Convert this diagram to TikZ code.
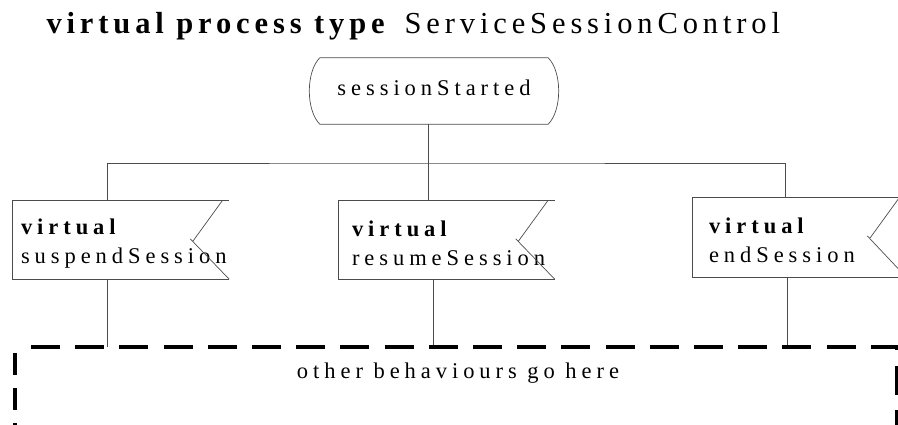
\documentclass[tikz,border=0pt]{standalone}
\usepackage{fontspec}
\setmainfont{Liberation Serif}
\newfontfamily\sdlfont[LetterSpace=22]{Liberation Serif}
\newfontfamily\headfont[LetterSpace=16]{Liberation Serif}
\newcommand{\sigfont}{\sdlfont\fontsize{22.5}{29}\selectfont\hyphenpenalty=10000}
\newcommand{\titlefont}{\headfont\fontsize{30.5}{36}\selectfont}
\usepackage{tikz}
\usetikzlibrary{positioning}
\tikzstyle{line}=[draw=black!70, line width=0.7pt]
\tikzstyle{frame}=[line width=4pt, dash pattern=on 29pt off 15.2pt]
\tikzstyle{state}=[rectangle, minimum width=228pt, minimum height=66pt, inner sep=0pt, text depth=6pt, font=\sigfont]
\tikzstyle{sig}=[rectangle, minimum width=216pt, minimum height=78pt, inner xsep=8pt, text width=200pt, align=left, font=\sigfont]
\newcommand{\virt}[1]{\rule{0pt}{22pt}\textbf{virtual}\\#1}
\newcommand{\insig}[1]{\draw[line] (#1.north east) -- (#1.north west) -- (#1.south west) -- (#1.south east);
 \draw[line] ([xshift=-7pt]#1.north east) -- ++(-29,40) ++(-3,-2) -- (#1.south east);}

\begin{document}
\begin{tikzpicture}[x=1pt, y=-1pt]
 \useasboundingbox (0,0) rectangle (898,425);

 \node[anchor=base west, font=\titlefont] (title) at (43,34) {\textbf{virtual process type}\hspace{15pt}ServiceSessionControl};

 \node[state] (started) at (434,91) {sessionStarted};
 \draw[line] (started.north west) -- (started.north east)
 	.. controls +(14,14) and +(14,-14) .. (started.south east) -- (started.south west)
 	.. controls +(-14,-14) and +(-14,14) .. (started.north west);

 \node[sig] (suspend) at (121,240) {\virt{suspendSession}};
 \node[sig, inner xsep=13pt, text width=189pt] (resume) at (446.5,240) {\virt{resumeSession}};
 \node[sig, minimum width=213pt, minimum height=79pt, inner xsep=16pt, text width=181pt] (endsess) at (799.5,237.5) {\virt{endSession}};
 \insig{suspend}
 \insig{resume}
 \insig{endsess}

 \coordinate (fork) at (428,163);
 \draw[line] ([xshift=-6pt]started.south) -- (fork);
 \draw[line] ([xshift=-14pt]suspend.north) |- (fork) -| ([xshift=-14.5pt]endsess.north);
 \draw[line] (fork) -- ([xshift=-18.5pt]resume.north);

 \coordinate (frame) at (15,347);
 \draw[line] ([xshift=-14pt]suspend.south) -- ([xshift=-14pt]suspend.south |- frame);
 \draw[line] ([xshift=-13.5pt]resume.south) -- ([xshift=-13.5pt]resume.south |- frame);
 \draw[line] ([xshift=-12.5pt]endsess.south) -- ([xshift=-12.5pt]endsess.south |- frame);
 \draw[frame] ([xshift=16pt]frame) -- (896.5,347) -- (896.5,445);
 \draw[frame, dash pattern=on 22pt off 13pt] ([yshift=-6pt]frame) -- (15,445);

 \node[font=\sigfont] (others) at (458,373) {other behaviours go here};
\end{tikzpicture}
\end{document}
